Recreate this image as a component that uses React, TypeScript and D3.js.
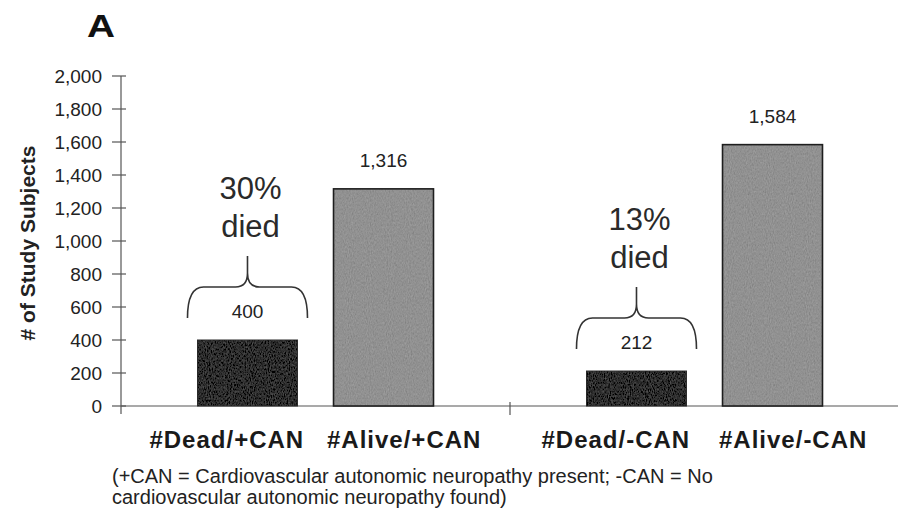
import * as d3 from "d3";

// data
const groups = ["+CAN", "-CAN"];
const statuses = ["Dead", "Alive"];
const deadCounts = [400, 212];
const aliveCounts = [1316, 1584];
const diedPercent = ["30%", "13%"];
const categoryLabels = [
  ["#Dead/+CAN", "#Alive/+CAN"],
  ["#Dead/-CAN", "#Alive/-CAN"],
];
const yTicks = [0, 200, 400, 600, 800, 1000, 1200, 1400, 1600, 1800, 2000];
const footnote = [
  "(+CAN = Cardiovascular autonomic neuropathy present; -CAN = No",
  "cardiovascular autonomic neuropathy found)",
];

const WIDTH = 898;
const HEIGHT = 517;
const FONT = "'Liberation Sans', Arial, Helvetica, sans-serif";

const bracePath = (xc: number, half: number, yEnd: number) => {
  const x0 = xc - half;
  const x1 = xc + half;
  const yH = yEnd - 31;
  const tip = yEnd - 62;
  const p = d3.path();
  p.moveTo(x0, yEnd);
  p.quadraticCurveTo(x0, yH, x0 + 16, yH);
  p.lineTo(xc - 12, yH);
  p.quadraticCurveTo(xc, yH, xc, yH - 14);
  p.lineTo(xc, tip);
  p.moveTo(xc, yH - 14);
  p.quadraticCurveTo(xc, yH, xc + 12, yH);
  p.lineTo(x1 - 16, yH);
  p.quadraticCurveTo(x1, yH, x1, yEnd);
  return p.toString();
};

export default function App() {
  const x0 = d3.scaleBand().domain(groups).range([121, 899]).padding(0);
  const x1 = d3
    .scaleBand()
    .domain(statuses)
    .range([0, x0.bandwidth()])
    .paddingInner(0.265)
    .paddingOuter(0.5625);
  const y = d3.scaleLinear().domain([0, 2000]).range([406, 76]);
  const fmt = d3.format(",");

  const axisColor = "#555";
  const xAxisY = y(0);
  const yAxisX = x0.range()[0];

  return (
    <svg
      width={WIDTH}
      height={HEIGHT}
      style={{ position: "absolute", left: 0, top: 0, background: "#fff" }}
      fontFamily={FONT}
    >
      <defs>
        {/* speckled print texture for the bars */}
        <filter id="grain" x="0" y="0" width="100%" height="100%">
          <feTurbulence type="fractalNoise" baseFrequency="0.95 0.45" numOctaves={2} seed={7} result="noise" />
          <feColorMatrix
            in="noise"
            type="matrix"
            values="0.33 0.33 0.33 0 0  0.33 0.33 0.33 0 0  0.33 0.33 0.33 0 0  0 0 0 0 1"
            result="grey"
          />
          <feComposite in="SourceGraphic" in2="grey" operator="arithmetic" k1={0} k2={1} k3={0.28} k4={-0.14} result="mix" />
          <feComposite in="mix" in2="SourceGraphic" operator="in" />
        </filter>
      </defs>
      <rect width={WIDTH} height={HEIGHT} fill="#fff" />

      {/* panel letter */}
      <text x={87} y={37} fontSize={31} fontWeight="bold" fill="#111" textLength={28} lengthAdjust="spacingAndGlyphs">
        A
      </text>

      {/* y axis title */}
      <text
        transform={`translate(35, ${(y(0) + y(2000)) / 2 + 2}) rotate(-90)`}
        textAnchor="middle"
        fontSize={21}
        fontWeight="bold"
        fill="#222"
      >
        # of Study Subjects
      </text>

      {/* y axis */}
      <line x1={yAxisX} x2={yAxisX} y1={y(2000)} y2={xAxisY + 8} stroke={axisColor} strokeWidth={1.2} />
      {yTicks.map((t) => (
        <g key={t}>
          <line x1={yAxisX - 9} x2={yAxisX + 5} y1={y(t)} y2={y(t)} stroke={axisColor} strokeWidth={1.2} />
          <text x={yAxisX - 19} y={y(t)} dy="0.36em" textAnchor="end" fontSize={19} fill="#222">
            {fmt(t)}
          </text>
        </g>
      ))}

      {/* x axis */}
      <line x1={yAxisX} x2={WIDTH} y1={xAxisY} y2={xAxisY} stroke={axisColor} strokeWidth={1.2} />
      <line
        x1={x0("-CAN")!}
        x2={x0("-CAN")!}
        y1={xAxisY - 4}
        y2={xAxisY + 9}
        stroke={axisColor}
        strokeWidth={1.2}
      />

      {/* bars */}
      {groups.map((g, gi) => {
        const gx = x0(g)!;
        const vals = [deadCounts[gi], aliveCounts[gi]];
        return (
          <g key={g}>
            {statuses.map((s, si) => {
              const v = vals[si];
              const bx = gx + x1(s)!;
              const dead = s === "Dead";
              return (
                <g key={s}>
                  <rect
                    x={bx}
                    y={y(v)}
                    width={x1.bandwidth()}
                    height={y(0) - y(v)}
                    fill={dead ? "#2e2e2e" : "#919191"}
                    filter="url(#grain)"
                  />
                  <rect
                    x={bx}
                    y={y(v)}
                    width={x1.bandwidth()}
                    height={y(0) - y(v)}
                    fill="none"
                    stroke={dead ? "#2a2a2a" : "#1e1e1e"}
                    strokeWidth={dead ? 1 : 1.6}
                  />
                </g>
              );
            })}
            {statuses.map((s, si) => {
              const v = vals[si];
              const cx = gx + x1(s)! + x1.bandwidth() / 2;
              return (
                <text key={s + "lab"} x={cx} y={y(v) - 22} textAnchor="middle" fontSize={19} fill="#222">
                  {fmt(v)}
                </text>
              );
            })}
            {/* brace and died annotation above the dead bar */}
            {(() => {
              const cx = gx + x1("Dead")! + x1.bandwidth() / 2;
              const yEnd = y(deadCounts[gi]) - 22;
              const tip = yEnd - 62;
              return (
                <g>
                  <path d={bracePath(cx, 60, yEnd)} fill="none" stroke="#333" strokeWidth={1.6} />
                  <text x={cx + 3} y={tip - 57} textAnchor="middle" fontSize={31} fill="#2a2a2a">
                    {diedPercent[gi]}
                  </text>
                  <text x={cx + 3} y={tip - 19} textAnchor="middle" fontSize={31} fill="#2a2a2a">
                    died
                  </text>
                </g>
              );
            })()}
            {/* category labels */}
            {statuses.map((s, si) => {
              const center = gx + x0.bandwidth() / 2;
              const off = (si === 0 ? -1 : 1) * x0.bandwidth() * 0.228;
              return (
                <text
                  key={s + "cat"}
                  x={center + off}
                  y={448}
                  textAnchor="middle"
                  fontSize={24}
                  fontWeight="bold"
                  letterSpacing={1}
                  fill="#1a1a1a"
                >
                  {categoryLabels[gi][si]}
                </text>
              );
            })}
          </g>
        );
      })}

      {/* footnote */}
      {footnote.map((line, i) => (
        <text key={i} x={112} y={483 + i * 21} fontSize={20} fill="#222">
          {line}
        </text>
      ))}
    </svg>
  );
}
